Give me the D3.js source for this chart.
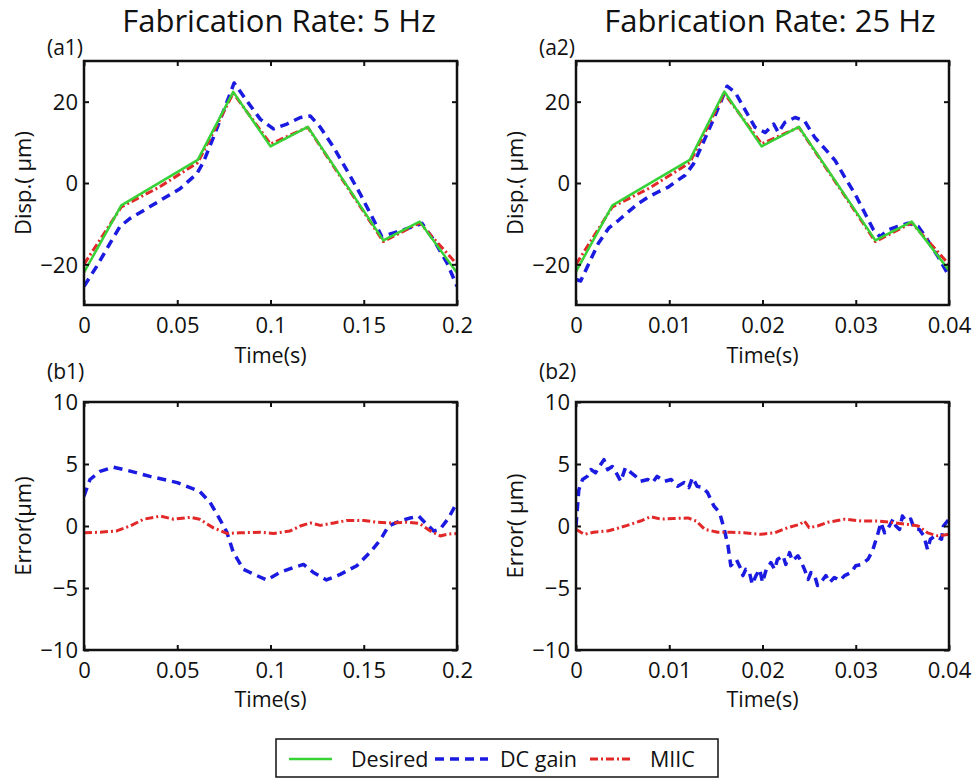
<!DOCTYPE html>
<html>
<head>
<meta charset="utf-8">
<script src="https://cdn.jsdelivr.net/npm/d3@7"></script>
<style>
  html, body { margin: 0; padding: 0; background: #fff; }
  svg { display: block; }
  text { font-family: "Open Sans", "Noto Sans", sans-serif; fill: #111; }
</style>
</head>
<body>
<svg id="chart" width="974" height="780"></svg>
<script>
// ---------------- DATA ----------------
const titles = ["Fabrication Rate: 5 Hz", "Fabrication Rate: 25 Hz"];
const panelLabels = ["(a1)", "(a2)", "(b1)", "(b2)"];
const seriesNames = ["Desired", "DC gain", "MIIC"];

// x ticks
const xTicks5 = [0, 0.05, 0.1, 0.15, 0.2];
const xTickLabels5 = ["0", "0.05", "0.1", "0.15", "0.2"];
const xTicks25 = [0, 0.01, 0.02, 0.03, 0.04];
const xTickLabels25 = ["0", "0.01", "0.02", "0.03", "0.04"];
// y ticks
const dispTicks = [-20, 0, 20];
const dispTickLabels = ["\u221220", "0", "20"];
const errTicks = [-10, -5, 0, 5, 10];
const errTickLabels = ["\u221210", "\u22125", "0", "5", "10"];

// (a1) displacement, 5 Hz
const desiredT5 = [0, 0.02, 0.061, 0.08, 0.1, 0.12, 0.1605, 0.18, 0.2];
const desired5  = [-22, -5.5, 5.7, 22.4, 9.0, 13.8, -14.1, -9.5, -22.1];
const dcDispT5 = [0, 0.0068, 0.014, 0.0193, 0.0247, 0.0336, 0.0426, 0.0515, 0.0605, 0.064, 0.0694, 0.0748, 0.0805, 0.0873, 0.0945, 0.1016, 0.1088, 0.116, 0.1213, 0.1267, 0.1338, 0.141, 0.148, 0.1553, 0.1597, 0.1678, 0.1767, 0.1812, 0.1875, 0.1947, 0.2];
const dcDisp5  = [-25.4, -20.5, -14.8, -10.7, -8.7, -6.3, -3.8, -1.4, 2.3, 5.1, 11.2, 17.7, 24.6, 20.2, 15.7, 13.3, 14.5, 16.1, 16.5, 13.7, 8.8, 3.1, -2.6, -9.1, -13.2, -12.0, -10.7, -9.9, -14.0, -19.7, -25.4];
const miicDispT5 = [0, 0.02, 0.04, 0.061, 0.08, 0.1, 0.12, 0.1605, 0.18, 0.2];
const miicDisp5  = [-20.0, -5.9, -1.1, 5.0, 22.1, 9.6, 13.7, -14.4, -9.8, -20.0];

// (a2) displacement, 25 Hz
const desiredT25 = [0, 0.0039, 0.0122, 0.0159, 0.0199, 0.0239, 0.0321, 0.036, 0.04];
const desired25  = [-21.8, -5.5, 5.7, 22.5, 9.0, 13.8, -14.1, -9.5, -21.5];
const dcDispT25 = [0, 0.0005, 0.0014, 0.0024, 0.0035, 0.0046, 0.0056, 0.0067, 0.0078, 0.0088, 0.0099, 0.0106, 0.0117, 0.0126, 0.0135, 0.0146, 0.0155, 0.0162, 0.0171, 0.0181, 0.0192, 0.0203, 0.0212, 0.0217, 0.0224, 0.0235, 0.0245, 0.0256, 0.0267, 0.0278, 0.0288, 0.0299, 0.031, 0.0319, 0.0326, 0.0335, 0.0345, 0.0356, 0.0367, 0.0376, 0.0381, 0.0388, 0.04];
const dcDisp25  = [-23.7, -24.1, -19.7, -14.8, -11.1, -9.1, -7.1, -5.0, -3.4, -2.2, -1.0, 0.2, 1.9, 4.7, 9.2, 14.9, 19.8, 23.8, 22.2, 18.1, 13.7, 12.4, 14.5, 12.4, 14.9, 16.1, 15.3, 11.2, 8.4, 5.5, 1.5, -2.6, -7.5, -11.5, -13.2, -11.5, -10.7, -9.9, -10.7, -13.6, -15.6, -18.0, -22.9];
const miicDispT25 = [0, 0.0039, 0.008, 0.0122, 0.0159, 0.0199, 0.0239, 0.0321, 0.036, 0.04];
const miicDisp25  = [-20.0, -5.9, -1.1, 5.0, 22.1, 9.6, 13.7, -14.4, -9.8, -20.0];

// (b1) tracking error, 5 Hz
const dcErrT5 = [0, 0.0032, 0.0086, 0.0157, 0.023, 0.0354, 0.05, 0.062, 0.0676, 0.073, 0.0766, 0.08, 0.0855, 0.0927, 0.098, 0.105, 0.1123, 0.1177, 0.123, 0.13, 0.1374, 0.1463, 0.1535, 0.159, 0.1633, 0.1696, 0.175, 0.1795, 0.183, 0.1875, 0.191, 0.1955, 0.2];
const dcErr5  = [2.4, 3.75, 4.4, 4.75, 4.5, 4.0, 3.5, 2.8, 1.9, 0.5, -0.5, -2.1, -3.5, -4.0, -4.35, -3.75, -3.35, -3.1, -3.75, -4.35, -3.9, -3.2, -2.1, -1.1, 0.0, 0.4, 0.65, 0.8, 0.25, -0.4, -0.25, 0.65, 1.9];
const miicErrT5 = [0, 0.0086, 0.0175, 0.0247, 0.032, 0.041, 0.048, 0.057, 0.062, 0.0694, 0.0766, 0.0837, 0.0945, 0.1016, 0.1105, 0.116, 0.1213, 0.1267, 0.134, 0.141, 0.15, 0.157, 0.164, 0.173, 0.18, 0.1857, 0.191, 0.1955, 0.2];
const miicErr5  = [-0.55, -0.5, -0.4, 0.0, 0.55, 0.8, 0.55, 0.7, 0.55, -0.15, -0.6, -0.55, -0.5, -0.6, -0.4, 0.0, 0.25, 0.05, 0.25, 0.45, 0.45, 0.3, 0.25, 0.3, 0.2, -0.4, -0.8, -0.65, -0.6];

// (b2) tracking error, 25 Hz
const dcErrT25 = [0, 0.0003, 0.0007, 0.0012, 0.0016, 0.0021, 0.0025, 0.003, 0.0034, 0.0039, 0.0043, 0.0048, 0.0053, 0.0059, 0.0064, 0.0069, 0.0077, 0.0082, 0.0087, 0.0095, 0.0102, 0.0109, 0.0116, 0.0121, 0.0125, 0.013, 0.0136, 0.0141, 0.0148, 0.0154, 0.0159, 0.0163, 0.0166, 0.0172, 0.0177, 0.0179, 0.0182, 0.0186, 0.0189, 0.0193, 0.0197, 0.02, 0.0204, 0.0209, 0.0213, 0.0216, 0.0222, 0.0225, 0.0229, 0.0232, 0.0238, 0.0241, 0.0245, 0.0249, 0.0252, 0.0256, 0.0259, 0.0265, 0.0268, 0.0272, 0.0277, 0.0283, 0.0288, 0.0295, 0.03, 0.0306, 0.0313, 0.0318, 0.0324, 0.0327, 0.0331, 0.0336, 0.034, 0.0343, 0.0347, 0.035, 0.0354, 0.0359, 0.0363, 0.0368, 0.0373, 0.0377, 0.038, 0.0385, 0.0392, 0.0394, 0.04];
const dcErr25  = [0.0, 2.9, 3.75, 4.0, 4.55, 4.3, 4.8, 5.35, 4.55, 4.8, 4.3, 3.6, 4.7, 4.3, 4.0, 3.6, 3.75, 3.5, 4.0, 3.6, 3.75, 3.2, 3.5, 3.1, 3.9, 3.2, 3.1, 2.7, 1.6, 1.07, -0.27, -1.6, -3.2, -2.7, -3.5, -4.0, -3.5, -3.75, -4.7, -4.0, -3.5, -4.55, -3.5, -2.95, -3.5, -2.7, -2.4, -3.1, -2.15, -2.8, -2.4, -2.8, -3.5, -4.3, -3.75, -4.0, -4.8, -4.3, -4.0, -4.55, -4.15, -4.4, -4.0, -3.75, -3.2, -3.1, -2.7, -2.0, -0.55, 0.27, -0.55, 0.0, 0.55, 0.0, -0.27, 0.8, 0.4, 0.55, -0.27, -0.27, -0.8, -1.9, -1.07, -0.8, -1.07, 0.0, 0.55];
const miicErrT25 = [0, 0.0009, 0.0019, 0.0034, 0.0044, 0.0055, 0.0069, 0.008, 0.0091, 0.0105, 0.012, 0.0129, 0.0138, 0.0152, 0.0166, 0.018, 0.0198, 0.0213, 0.0227, 0.024, 0.0245, 0.025, 0.0259, 0.027, 0.0288, 0.0306, 0.0324, 0.0341, 0.0356, 0.0367, 0.0377, 0.0388, 0.04];
const miicErr25  = [-0.27, -0.67, -0.5, -0.4, -0.2, 0.05, 0.4, 0.75, 0.55, 0.6, 0.65, 0.4, -0.27, -0.5, -0.5, -0.55, -0.67, -0.55, -0.13, 0.13, 0.4, -0.13, 0.0, 0.3, 0.55, 0.4, 0.4, 0.27, 0.13, 0.0, -0.55, -0.8, -0.67];

// ---------------- STYLE ----------------
const colors = { desired: "#36d236", dc: "#1a1ae0", miic: "#e22828" };
const dashDC = "9,6";
const dashMIIC = "8,3,2,3";
const widths = { desired: 2.5, dc: 3.5, miic: 3 };

// ---------------- DRAW ----------------
const svg = d3.select("#chart");

const panels = [
  { x0: 84,  x1: 457, y0: 61,  y1: 305, xd: [0, 0.2],  yd: [-30, 30], xt: xTicks5,  xl: xTickLabels5,  yt: dispTicks, yl: dispTickLabels,
    ylab: "Disp.( \u03BCm)", lab: panelLabels[0], labDy: 6, timeDy: 58,
    series: [
      { t: dcDispT5, v: dcDisp5, c: colors.dc, w: widths.dc, d: dashDC },
      { t: miicDispT5, v: miicDisp5, c: colors.miic, w: widths.miic, d: dashMIIC },
      { t: desiredT5, v: desired5, c: colors.desired, w: widths.desired, d: null } ] },
  { x0: 576, x1: 949, y0: 61,  y1: 305, xd: [0, 0.04], yd: [-30, 30], xt: xTicks25, xl: xTickLabels25, yt: dispTicks, yl: dispTickLabels,
    ylab: "Disp.( \u03BCm)", lab: panelLabels[1], labDy: 6, timeDy: 58,
    series: [
      { t: dcDispT25, v: dcDisp25, c: colors.dc, w: widths.dc, d: dashDC },
      { t: miicDispT25, v: miicDisp25, c: colors.miic, w: widths.miic, d: dashMIIC },
      { t: desiredT25, v: desired25, c: colors.desired, w: widths.desired, d: null } ] },
  { x0: 84,  x1: 457, y0: 402, y1: 650, xd: [0, 0.2],  yd: [-10, 10], xt: xTicks5,  xl: xTickLabels5,  yt: errTicks, yl: errTickLabels,
    ylab: "Error(\u03BCm)", lab: panelLabels[2], labDy: 23, timeDy: 57,
    series: [
      { t: dcErrT5, v: dcErr5, c: colors.dc, w: widths.dc, d: dashDC },
      { t: miicErrT5, v: miicErr5, c: colors.miic, w: widths.miic, d: dashMIIC } ] },
  { x0: 576, x1: 949, y0: 402, y1: 650, xd: [0, 0.04], yd: [-10, 10], xt: xTicks25, xl: xTickLabels25, yt: errTicks, yl: errTickLabels,
    ylab: "Error( \u03BCm)", lab: panelLabels[3], labDy: 23, timeDy: 57,
    series: [
      { t: dcErrT25, v: dcErr25, c: colors.dc, w: widths.dc, d: dashDC },
      { t: miicErrT25, v: miicErr25, c: colors.miic, w: widths.miic, d: dashMIIC } ] }
];

panels.forEach((p, i) => {
  const x = d3.scaleLinear().domain(p.xd).range([p.x0, p.x1]);
  const y = d3.scaleLinear().domain(p.yd).range([p.y1, p.y0]);
  const g = svg.append("g");
  const clipId = "clip" + i;
  svg.append("clipPath").attr("id", clipId).append("rect")
    .attr("x", p.x0).attr("y", p.y0).attr("width", p.x1 - p.x0).attr("height", p.y1 - p.y0);

  // lines
  const plot = g.append("g").attr("clip-path", `url(#${clipId})`);
  p.series.forEach(s => {
    const pts = s.t.map((t, k) => [t, s.v[k]]);
    plot.append("path")
      .datum(pts)
      .attr("fill", "none")
      .attr("stroke", s.c)
      .attr("stroke-width", s.w)
      .attr("stroke-linejoin", "round")
      .attr("stroke-dasharray", s.d)
      .attr("d", d3.line().x(d => x(d[0])).y(d => y(d[1])));
  });

  // axes with inward ticks
  const tickLen = 5;
  const fmtX = d => p.xl[p.xt.indexOf(d)];
  const fmtY = d => p.yl[p.yt.indexOf(d)];
  const ax = [
    g.append("g").attr("transform", `translate(0,${p.y1})`)
      .call(d3.axisBottom(x).tickValues(p.xt).tickFormat(fmtX).tickSizeInner(-tickLen).tickSizeOuter(0).tickPadding(7)),
    g.append("g").attr("transform", `translate(0,${p.y0})`)
      .call(d3.axisTop(x).tickValues(p.xt).tickFormat("").tickSizeInner(-tickLen).tickSizeOuter(0)),
    g.append("g").attr("transform", `translate(${p.x0},0)`)
      .call(d3.axisLeft(y).tickValues(p.yt).tickFormat(fmtY).tickSizeInner(-tickLen).tickSizeOuter(0).tickPadding(6)),
    g.append("g").attr("transform", `translate(${p.x1},0)`)
      .call(d3.axisRight(y).tickValues(p.yt).tickFormat("").tickSizeInner(-tickLen).tickSizeOuter(0))
  ];
  ax.forEach(a => {
    a.select(".domain").remove();
    a.selectAll(".tick line").attr("stroke", "#111").attr("stroke-width", 2);
    a.selectAll(".tick text").attr("font-size", 22).attr("fill", "#111")
      .style("font-family", "'Open Sans', sans-serif");
  });
  ax[0].selectAll(".tick text").attr("dy", "0.95em");
  ax[2].selectAll(".tick text").attr("dy", "0.36em");

  // frame
  g.append("rect").attr("x", p.x0).attr("y", p.y0)
    .attr("width", p.x1 - p.x0).attr("height", p.y1 - p.y0)
    .attr("fill", "none").attr("stroke", "#111").attr("stroke-width", 2.5);

  // x label
  g.append("text").attr("x", (p.x0 + p.x1) / 2).attr("y", p.y1 + p.timeDy)
    .attr("text-anchor", "middle").attr("font-size", 21.5).text("Time(s)");
  // y label
  g.append("text")
    .attr("transform", `translate(${p.x0 - 53},${(p.y0 + p.y1) / 2}) rotate(-90)`)
    .attr("text-anchor", "middle").attr("font-size", 22).text(p.ylab);
  // panel label
  g.append("text").attr("x", p.x0 - 37).attr("y", p.y0 - p.labDy)
    .attr("font-size", 21).text(p.lab);
});

// titles
svg.append("text").attr("x", 279).attr("y", 32).attr("text-anchor", "middle")
  .attr("font-size", 31).text(titles[0]);
svg.append("text").attr("x", 770).attr("y", 32).attr("text-anchor", "middle")
  .attr("font-size", 31).text(titles[1]);

// legend
const leg = svg.append("g");
leg.append("rect").attr("x", 276).attr("y", 739).attr("width", 442).attr("height", 38)
  .attr("fill", "#fff").attr("stroke", "#111").attr("stroke-width", 1.5);
const legItems = [
  { name: seriesNames[0], c: colors.desired, w: widths.desired, d: null, lx0: 289, lx1: 332, tx: 351 },
  { name: seriesNames[1], c: colors.dc, w: widths.dc, d: dashDC, lx0: 435, lx1: 488, tx: 500 },
  { name: seriesNames[2], c: colors.miic, w: widths.miic, d: dashMIIC, lx0: 590, lx1: 630, tx: 650 }
];
legItems.forEach(it => {
  leg.append("line").attr("x1", it.lx0).attr("x2", it.lx1).attr("y1", 759).attr("y2", 759)
    .attr("stroke", it.c).attr("stroke-width", it.w).attr("stroke-dasharray", it.d);
  leg.append("text").attr("x", it.tx).attr("y", 767).attr("font-size", 21.5).text(it.name);
});
</script>
</body>
</html>
